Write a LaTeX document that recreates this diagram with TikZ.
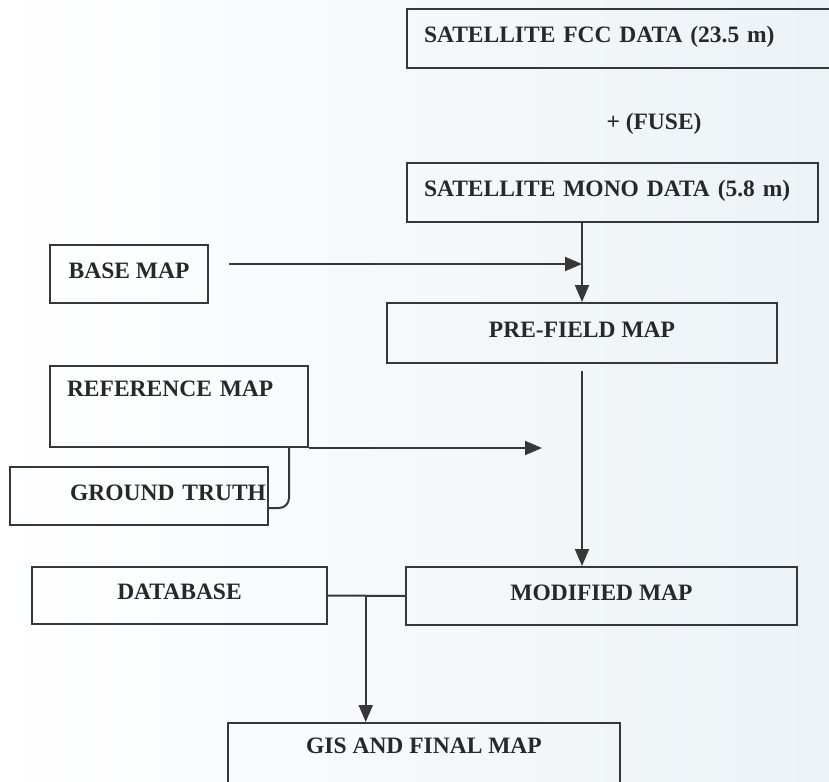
\documentclass[tikz,border=0pt]{standalone}
\usepackage{fontspec}
\setmainfont{Liberation Serif}
\usepackage{xcolor}
\usepackage{tikz}
\usetikzlibrary{positioning,%
  arrows.meta,%
  calc
}
\definecolor{linegray}{RGB}{55,55,55}
\definecolor{textgray}{RGB}{40,40,40}
\definecolor{paperblue}{RGB}{236,242,246}

\begin{document}
\begin{tikzpicture}
                    [x=1pt, y=-1pt,
                    box/.style={rectangle,
                        draw=linegray, line width=2pt,
                        text=textgray, inner sep=0pt,
                        text height=16pt, text depth=8pt,
                        font=\fontsize{23.5}{28}\selectfont\bfseries},
                    leftbox/.style={box,
                        inner xsep=17pt, align=left},
                    conn/.style={draw=linegray, line width=2pt},
                    arr/.style={conn,
                        -{Triangle[length=17pt,width=14pt]}}]

                    % paper
                    \useasboundingbox (0,0) rectangle (829,781);
                    \fill[left color=white, right color=paperblue]
                        (0,0) rectangle (829,781);

                    \node[leftbox, minimum width=428pt, minimum height=59pt,
                        text width=394pt] at (621,38.5)
                        (fcc) {SATELLITE FCC DATA (23.5 m)};
                    \node[text=textgray,
                        font=\fontsize{23.5}{28}\selectfont\bfseries] at (654,124)
                        (fuse) {+ (FUSE)};
                    \node[leftbox, minimum width=411pt, minimum height=59pt,
                        text width=377pt] at (612.5,192.5)
                        (mono) {SATELLITE MONO DATA (5.8 m)};
                    \node[box, minimum width=158pt, minimum height=58pt] at (129,274)
                        (base) {BASE MAP};
                    \node[box, minimum width=390pt, minimum height=60pt] at (582,333)
                        (pre) {PRE-FIELD MAP};
                    \node[leftbox, minimum width=258pt, minimum height=81pt,
                        text width=224pt, text depth=37pt] at (179,406.5)
                        (ref) {REFERENCE MAP};
                    \node[box, minimum width=258pt, minimum height=58pt,
                        inner xsep=2pt, text width=254pt, align=right] at (139,496)
                        (ground) {GROUND TRUTH};
                    \node[box, minimum width=295pt, minimum height=57pt] at (179.5,595.5)
                        (db) {DATABASE};
                    \node[box, minimum width=391pt, minimum height=58pt] at (601.5,596)
                        (mod) {MODIFIED MAP};
                    \node[box, minimum width=392pt, minimum height=72pt,
                        text depth=28pt] at (424,759)
                        (gis) {GIS AND FINAL MAP};

                    % connectors
                    \coordinate (basestart) at ([xshift=20pt,yshift=10pt]base.east);
                    \coordinate (refend) at ([xshift=233pt]ref.south east);
                    \coordinate (dbjoin) at ($(db.east)!0.49!(mod.west)$);

                    \draw[arr] (pre.north |- mono.south) -- (pre.north);
                    \draw[arr] (basestart) -- (basestart -| pre.north);
                    \draw[arr] ([yshift=-7pt]pre.south) -- (pre.south |- mod.north);
                    \draw[arr] (ref.south east) -- (refend);
                    \draw[conn, rounded corners=10pt]
                        ([xshift=-20pt]ref.south east) |- ([yshift=-12pt]ground.east);
                    \draw[conn] (db.east) -- (mod.west);
                    \draw[arr] (dbjoin) -- (dbjoin |- gis.north);
                \end{tikzpicture}
\end{document}
